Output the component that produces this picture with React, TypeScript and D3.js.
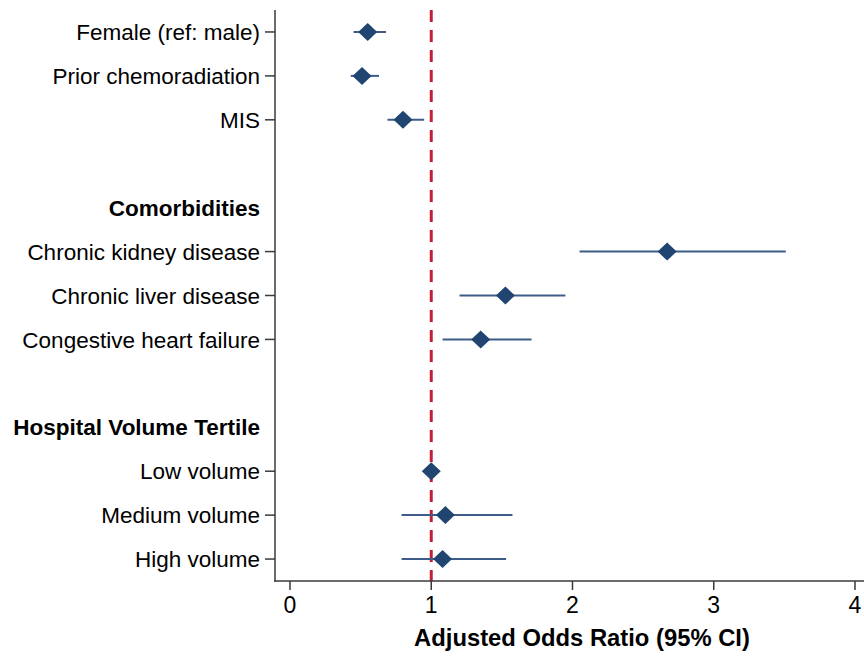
import React from "react";
import * as d3 from "d3";

const labels = [
  "Female (ref: male)",
  "Prior chemoradiation",
  "MIS",
  "",
  "Comorbidities",
  "Chronic kidney disease",
  "Chronic liver disease",
  "Congestive heart failure",
  "",
  "Hospital Volume Tertile",
  "Low volume",
  "Medium volume",
  "High volume",
];
const isHeader = [false, false, false, false, true, false, false, false, false, true, false, false, false];
const oddsRatio: (number | null)[] = [0.55, 0.51, 0.8, null, null, 2.67, 1.525, 1.35, null, null, 1.0, 1.1, 1.08];
const ciLow: (number | null)[] = [0.45, 0.43, 0.69, null, null, 2.05, 1.2, 1.08, null, null, 1.0, 0.79, 0.79];
const ciHigh: (number | null)[] = [0.68, 0.63, 0.95, null, null, 3.51, 1.95, 1.71, null, null, 1.0, 1.575, 1.53];
const xTicks = [0, 1, 2, 3, 4];
const refValue = 1;
const xTitle = "Adjusted Odds Ratio (95% CI)";

export default function App() {
  const W = 864;
  const H = 657;
  const x = d3.scaleLinear().domain([0, 4]).range([290, 855]);
  const y = d3.scaleLinear().domain([-0.5, labels.length - 0.5]).range([10, 581]);
  const axisX = 275;
  const axisY = 581;
  const navy = "#1f4570";
  const lineCol = "#3d5d88";
  const red = "#c3213a";
  const font = "'Liberation Sans', Arial, Helvetica, sans-serif";
  const diamond = (cx: number, cy: number) =>
    `M${cx - 9.5},${cy} L${cx},${cy - 9} L${cx + 9.5},${cy} L${cx},${cy + 9} Z`;

  return (
    <svg width={W} height={H} style={{ position: "absolute", left: 0, top: 0, background: "#fff" }} fontFamily={font}>
      <rect x={0} y={0} width={W} height={H} fill="#fff" />
      {/* reference line */}
      <line x1={x(refValue)} x2={x(refValue)} y1={y(-0.5)} y2={axisY} stroke={red} strokeWidth={3} strokeDasharray="12 8" />
      {/* CIs and points */}
      {labels.map((_, i) =>
        oddsRatio[i] == null ? null : (
          <g key={i}>
            <line x1={x(ciLow[i] as number)} x2={x(ciHigh[i] as number)} y1={y(i)} y2={y(i)} stroke={lineCol} strokeWidth={2} />
            <path d={diamond(x(oddsRatio[i] as number), y(i))} fill={navy} />
          </g>
        )
      )}
      {/* y axis */}
      <line x1={axisX} x2={axisX} y1={y(-0.5)} y2={axisY + 0.75} stroke="#3a3a3a" strokeWidth={1.5} />
      {labels.map((lab, i) =>
        lab === "" ? null : (
          <g key={"l" + i}>
            {!isHeader[i] && <line x1={axisX - 10} x2={axisX} y1={y(i)} y2={y(i)} stroke="#3a3a3a" strokeWidth={1.5} />}
            <text x={260} y={y(i)} dy="0.36em" textAnchor="end" fontSize={22.5} fontWeight={isHeader[i] ? "bold" : "normal"} fill="#000">
              {lab}
            </text>
          </g>
        )
      )}
      {/* x axis */}
      <line x1={axisX - 0.75} x2={W} y1={axisY} y2={axisY} stroke="#3a3a3a" strokeWidth={1.5} />
      {xTicks.map((t) => (
        <g key={"t" + t}>
          <line x1={x(t)} x2={x(t)} y1={axisY} y2={axisY + 9} stroke="#3a3a3a" strokeWidth={1.5} />
          <text x={x(t)} y={613} textAnchor="middle" fontSize={23} fill="#000">
            {t}
          </text>
        </g>
      ))}
      <text x={582} y={646} textAnchor="middle" fontSize={23.8} fontWeight="bold" fill="#000">
        {xTitle}
      </text>
    </svg>
  );
}
